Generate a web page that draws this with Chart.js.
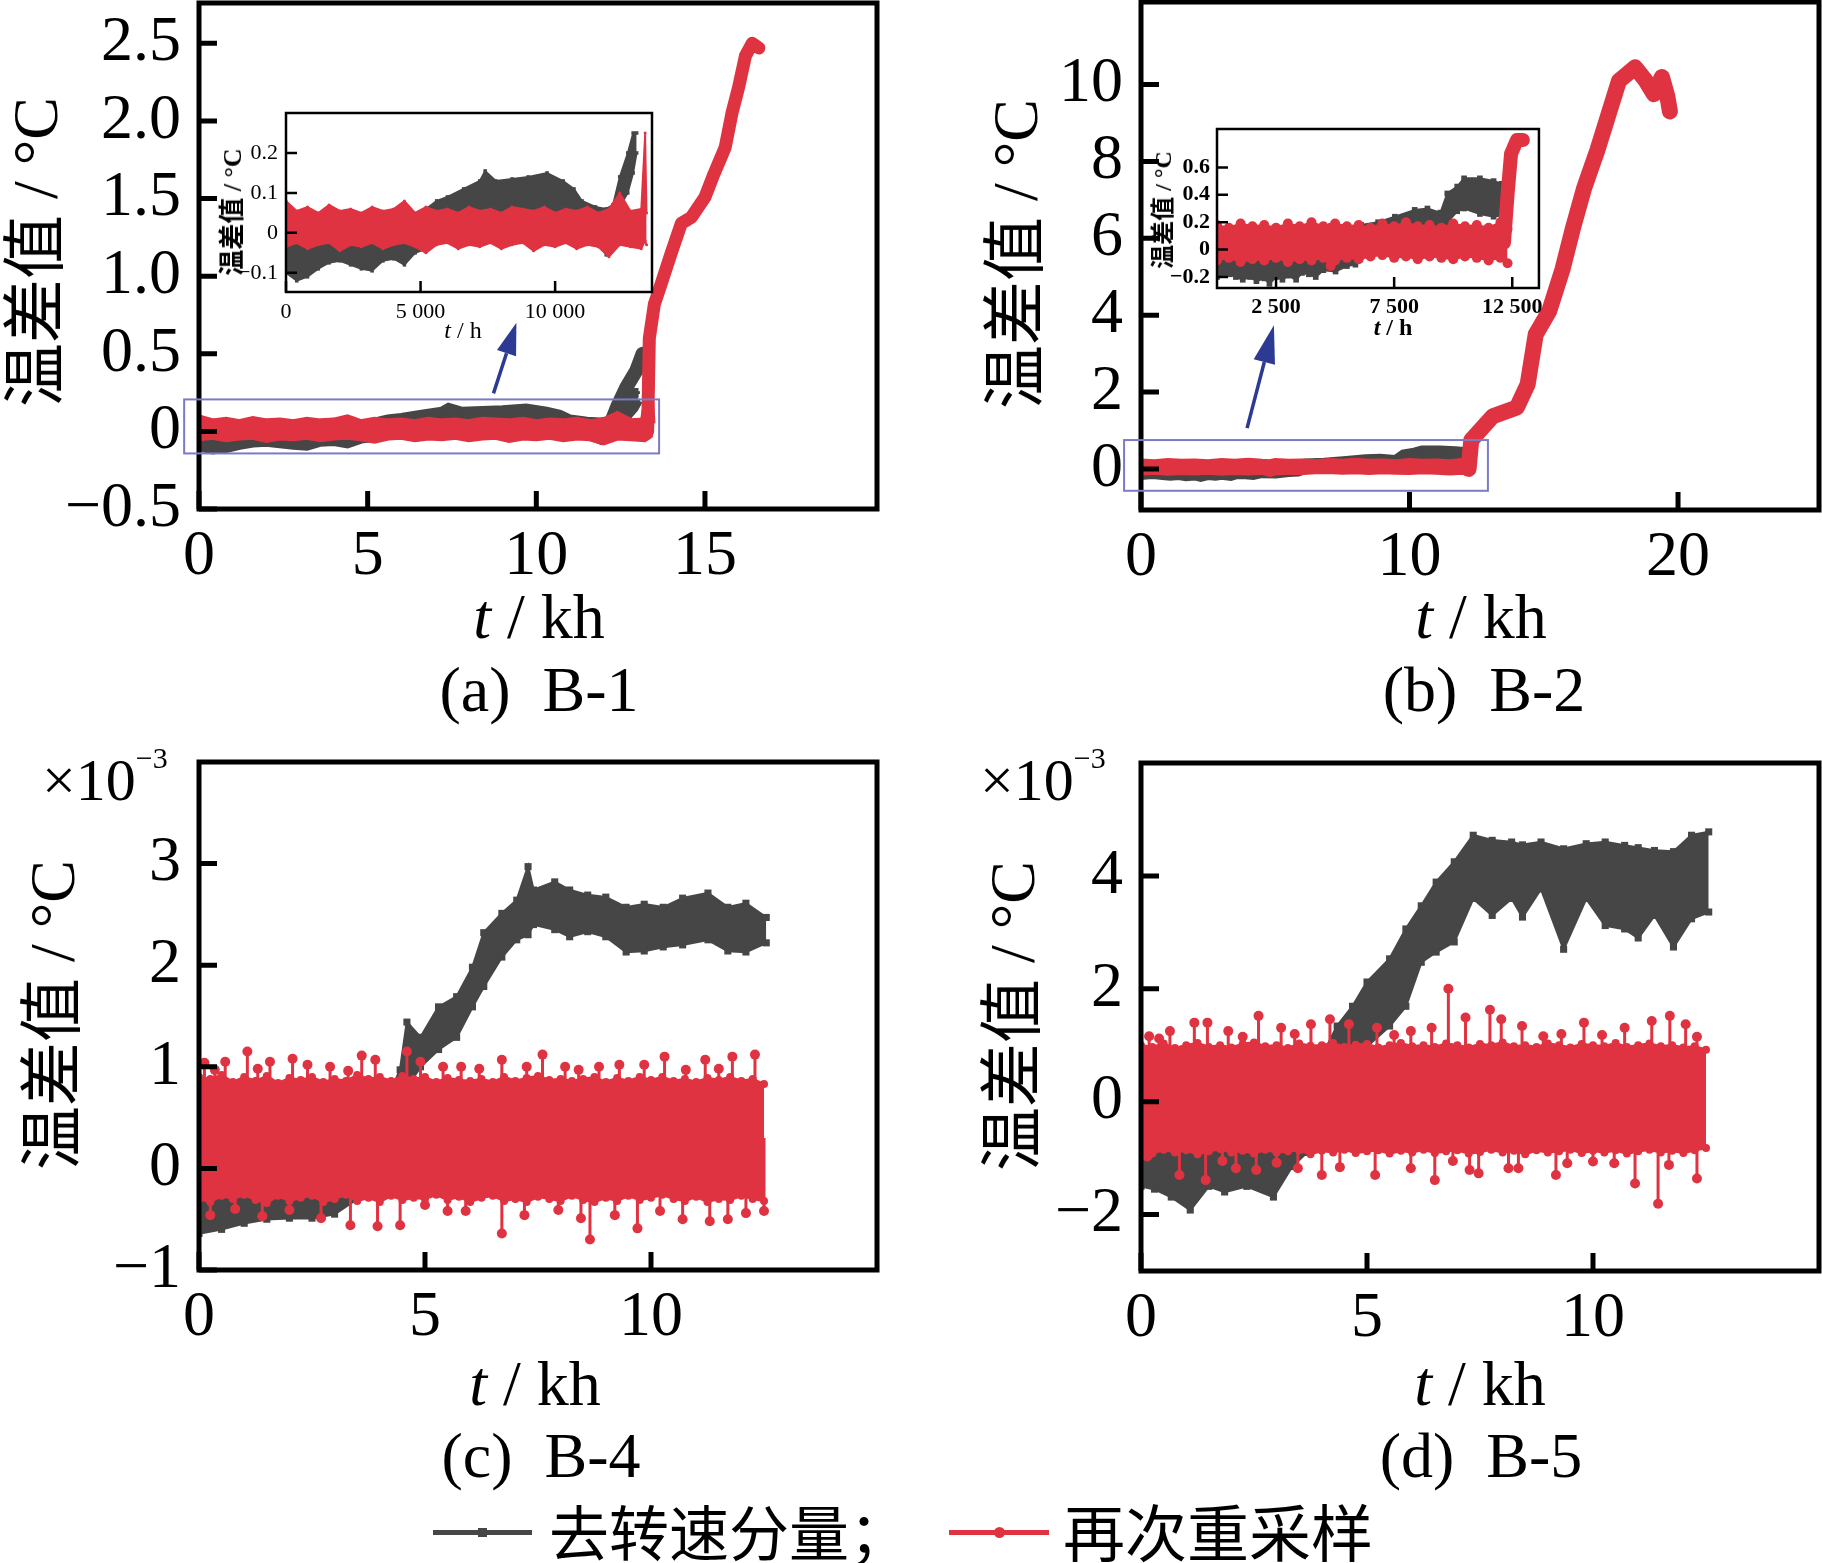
<!DOCTYPE html>
<html>
<head>
<meta charset="utf-8">
<script src="https://cdn.jsdelivr.net/npm/chart.js@4.4.1/dist/chart.umd.min.js"></script>
<style>
body { margin: 0; background: #fff; }
#page { position: relative; width: 1822px; height: 1563px; overflow: hidden; background: #fff; }
canvas { position: absolute; }
.t { position: absolute; white-space: nowrap; color: #000; line-height: 1;
     font-family: "Liberation Serif", "Noto Sans CJK SC", serif; transform: translate(-50%, -50%); }
.r { transform: translate(-50%, -50%) rotate(-90deg); }
.cn { font-family: "Noto Sans CJK SC", sans-serif; }
.m { position: absolute; white-space: nowrap; line-height: 1; font-family: "Liberation Serif", serif; font-size: 60px; }
.m span { font-size: 30px; position: relative; top: -32px; }
.seg { position: absolute; height: 5px; }
</style>
</head>
<body>
<div id="page">
  <canvas id="chA" width="887" height="679" style="left:0px;top:-60px"></canvas>
  <canvas id="chB" width="880" height="680" style="left:942px;top:-60px"></canvas>
  <canvas id="chC" width="887" height="680" style="left:0px;top:700px"></canvas>
  <canvas id="chD" width="880" height="681" style="left:942px;top:700px"></canvas>
  <canvas id="inA" width="432" height="245" style="left:226px;top:87px"></canvas>
  <canvas id="inB" width="392" height="225" style="left:1157px;top:103px"></canvas>

  <div class="t r" style="left:36px;top:252px;font-size:64px">温差值 / °C</div>
  <div class="t r" style="left:1016px;top:254px;font-size:64px">温差值 / °C</div>
  <div class="t r" style="left:53px;top:1015px;font-size:64px">温差值 / °C</div>
  <div class="t r" style="left:1013px;top:1016px;font-size:64px">温差值 / °C</div>

  <div class="t r" style="left:233px;top:212px;font-size:26px;font-weight:bold">温差值 / °C</div>
  <div class="t r" style="left:1163px;top:210px;font-size:24px;font-weight:bold">温差值 / °C</div>
  <div class="t" style="left:463px;top:330px;font-size:24px"><i>t</i> / h</div>
  <div class="t" style="left:1393px;top:327px;font-size:24px;font-weight:bold"><i>t</i> / h</div>

  <div class="t" style="left:539px;top:617px;font-size:64px"><i>t</i> / kh</div>
  <div class="t" style="left:1481px;top:617px;font-size:64px"><i>t</i> / kh</div>
  <div class="t" style="left:535px;top:1384px;font-size:64px"><i>t</i> / kh</div>
  <div class="t" style="left:1480px;top:1384px;font-size:64px"><i>t</i> / kh</div>

  <div class="t" style="left:539px;top:690px;font-size:64px">(a)&nbsp;&nbsp;B-1</div>
  <div class="t" style="left:1484px;top:690px;font-size:64px">(b)&nbsp;&nbsp;B-2</div>
  <div class="t" style="left:541px;top:1456px;font-size:64px">(c)&nbsp;&nbsp;B-4</div>
  <div class="t" style="left:1481px;top:1456px;font-size:64px">(d)&nbsp;&nbsp;B-5</div>

  <div class="m" style="left:42px;top:750px">×10<span>−3</span></div>
  <div class="m" style="left:980px;top:750px">×10<span>−3</span></div>

  <div class="seg" style="left:433px;top:1530px;width:99px;background:#464646"></div>
  <div style="position:absolute;left:478px;top:1528px;width:9px;height:9px;background:#464646"></div>
  <div class="t cn" style="left:549px;top:1530px;font-size:60px;transform:translate(0,-50%)">去转速分量；</div>
  <div class="seg" style="left:949px;top:1530px;width:100px;background:#e03341"></div>
  <div style="position:absolute;left:994px;top:1527px;width:11px;height:11px;border-radius:50%;background:#e03341"></div>
  <div class="t cn" style="left:1063px;top:1530px;font-size:62px;transform:translate(0,-50%)">再次重采样</div>
</div>

<script>
// ---- data ----
// (a) B-1, inset series, t in h
var aRedT = [0, 400, 800, 1200, 1600, 2000, 2400, 2800, 3200, 3600, 4000, 4400, 4800, 5200, 5600, 6000, 6400, 6800, 7200, 7600,
  8000, 8400, 8800, 9200, 9600, 10000, 10400, 10800, 11200, 11600, 12000, 12400, 12800, 13200, 13345, 13400];
var aRedHi = [0.08, 0.055, 0.065, 0.05, 0.07, 0.055, 0.06, 0.05, 0.065, 0.055, 0.06, 0.08, 0.05, 0.065, 0.055, 0.06, 0.05, 0.065, 0.055, 0.06,
  0.05, 0.065, 0.06, 0.055, 0.065, 0.05, 0.06, 0.055, 0.065, 0.05, 0.06, 0.1, 0.055, 0.06, 0.25, 0.05];
var aRedLo = [-0.035, -0.025, -0.04, -0.03, -0.025, -0.045, -0.03, -0.035, -0.025, -0.04, -0.03, -0.025, -0.035, -0.05, -0.03, -0.025, -0.04, -0.03, -0.035, -0.025,
  -0.04, -0.03, -0.025, -0.045, -0.03, -0.035, -0.025, -0.04, -0.03, -0.035, -0.06, -0.03, -0.035, -0.04, -0.02, -0.03];
var aGrayT = [0, 400, 800, 1200, 1600, 2000, 2400, 2800, 3200, 3600, 4000, 4400, 4800, 5200, 5600, 6000, 6600, 7200, 7400, 7800,
  8400, 9000, 9700, 10300, 10700, 11000, 11500, 11900, 12150, 12400, 12700, 12900, 13030];
var aGrayHi = [0.0, -0.01, 0.0, -0.01, 0.0, 0.01, 0.0, 0.01, 0.0, 0.01, 0.02, 0.03, 0.04, 0.06, 0.08, 0.09, 0.11, 0.13, 0.155, 0.13,
  0.135, 0.14, 0.15, 0.13, 0.11, 0.08, 0.065, 0.06, 0.07, 0.14, 0.2, 0.25, 0.25];
var aGrayLo = [-0.1, -0.12, -0.11, -0.09, -0.075, -0.07, -0.08, -0.09, -0.095, -0.07, -0.065, -0.08, -0.05, -0.04, -0.02, 0.0, 0.01, 0.02, 0.03, 0.02,
  0.03, 0.03, 0.02, 0.01, 0.0, -0.01, -0.02, -0.055, 0.0, 0.065, 0.1, 0.15, 0.2];
// (a) main-plot rise, t in kh
var aRedRiseT = [13.3, 13.35, 13.5, 13.7, 14.0, 14.3, 14.6, 15.0, 15.27, 15.6, 15.8, 16.0, 16.2, 16.4, 16.6];
var aRedRiseV = [0.0, 0.6, 0.82, 0.95, 1.15, 1.34, 1.38, 1.51, 1.66, 1.83, 2.05, 2.22, 2.42, 2.5, 2.47];
var aGrayRiseT = [12.2, 12.4, 12.66, 12.96, 13.15];
var aGrayRiseV = [0.05, 0.16, 0.28, 0.39, 0.5];

// (b) B-2, inset series, t in h
var bRedT = [0, 500, 1000, 1500, 2000, 2500, 3000, 3500, 4000, 4500, 4810, 5000, 5500, 6000, 6500, 7000, 7500, 8000, 8500, 9000,
  9500, 10000, 10500, 11000, 11500, 12000, 12300];
var bRedHi = [0.18, 0.16, 0.19, 0.17, 0.18, 0.16, 0.19, 0.17, 0.2, 0.17, 0.16, 0.19, 0.17, 0.18, 0.16, 0.19, 0.17, 0.2, 0.17, 0.18,
  0.16, 0.19, 0.17, 0.18, 0.16, 0.2, 0.15];
var bRedLo = [-0.08, -0.06, -0.09, -0.07, -0.08, -0.06, -0.09, -0.07, -0.08, -0.06, -0.12, -0.08, -0.06, -0.07, -0.05, -0.04, -0.06, -0.05, -0.07, -0.05,
  -0.06, -0.07, -0.05, -0.06, -0.08, -0.06, -0.1];
var bInRiseT = [12150, 12300, 12450, 12700, 12950];
var bInRiseV = [0.05, 0.4, 0.7, 0.8, 0.8];
var bGrayT = [0, 300, 540, 800, 1090, 1400, 1670, 2000, 2220, 2500, 2770, 3000, 3350, 3600, 3890, 4180, 4500, 5020, 5500, 5860,
  6100, 6820, 7530, 8370, 8910, 9460, 9750, 10170, 10460, 11130, 11710, 12050, 12150];
var bGrayHi = [-0.05, -0.06, -0.05, -0.07, -0.06, -0.05, -0.07, -0.06, -0.05, -0.06, -0.05, -0.06, -0.05, -0.04, -0.05, -0.03, 0.0, 0.05, 0.1, 0.14,
  0.18, 0.2, 0.24, 0.29, 0.3, 0.27, 0.41, 0.46, 0.52, 0.52, 0.5, 0.48, 0.05];
var bGrayLo = [-0.2, -0.18, -0.18, -0.2, -0.22, -0.2, -0.23, -0.21, -0.25, -0.2, -0.22, -0.19, -0.22, -0.17, -0.18, -0.2, -0.15, -0.16, -0.12, -0.11,
  -0.05, -0.02, 0.0, 0.05, 0.08, 0.1, 0.2, 0.28, 0.3, 0.26, 0.24, 0.25, -0.02];
// (b) main-plot rise, t in kh
var bRedRiseT = [12.2, 12.3, 13.1, 14.0, 14.4, 14.7, 15.2, 15.7, 16.1, 16.5, 17.0, 17.4, 17.8, 18.4, 18.8, 19.1, 19.4, 19.6, 19.7];
var bRedRiseV = [0.0, 0.75, 1.37, 1.6, 2.2, 3.5, 4.1, 5.2, 6.3, 7.3, 8.3, 9.2, 10.1, 10.45, 10.1, 9.75, 10.2, 9.7, 9.3];

// (c) B-4 and (d) B-5, t in kh, values in 1e-3 degC
// red: solid core edges on a common t grid, plus single spikes beyond the core
var cdRedT = [0, 0.25, 0.5, 0.75, 1, 1.25, 1.5, 1.75, 2, 2.25, 2.5, 2.75, 3, 3.25, 3.5, 3.75, 4, 4.25, 4.5, 4.75,
  5, 5.25, 5.5, 5.75, 6, 6.25, 6.5, 6.75, 7, 7.25, 7.5, 7.75, 8, 8.25, 8.5, 8.75, 9, 9.25, 9.5, 9.75,
  10, 10.25, 10.5, 10.75, 11, 11.25, 11.5, 11.75, 12, 12.25, 12.5];
var cRedHi = [0.9, 0.88, 0.92, 0.85, 0.9, 0.86, 0.91, 0.84, 0.89, 0.87, 0.9, 0.85, 0.88, 0.86, 0.92, 0.88, 0.9, 0.86, 0.91, 0.88,
  0.9, 0.85, 0.89, 0.87, 0.86, 0.88, 0.85, 0.9, 0.86, 0.89, 0.91, 0.87, 0.88, 0.86, 0.88, 0.9, 0.85, 0.89, 0.86, 0.9,
  0.87, 0.9, 0.86, 0.88, 0.85, 0.89, 0.87, 0.9, 0.86, 0.88, 0.83];
var cRedLo = [-0.3, -0.33, -0.27, -0.3, -0.26, -0.31, -0.34, -0.27, -0.32, -0.29, -0.27, -0.33, -0.3, -0.26, -0.32, -0.29, -0.33, -0.27, -0.31, -0.29,
  -0.3, -0.26, -0.31, -0.28, -0.33, -0.29, -0.27, -0.32, -0.3, -0.33, -0.28, -0.3, -0.32, -0.27, -0.31, -0.33, -0.29, -0.32, -0.27, -0.31,
  -0.29, -0.26, -0.3, -0.32, -0.28, -0.33, -0.3, -0.31, -0.27, -0.3, -0.32];
var cUpT = [0.12, 0.35, 0.58, 1.07, 1.3, 1.57, 2.07, 2.4, 2.9, 3.3, 3.6, 3.9, 4.6, 4.9, 5.4, 5.8, 6.2, 6.7, 7.25, 7.6,
  8.1, 8.4, 8.85, 9.3, 9.85, 10.3, 10.77, 11.2, 11.5, 11.8, 12.3];
var cUpV = [1.04, 0.97, 1.05, 1.15, 0.98, 1.05, 1.08, 1.02, 1.0, 0.96, 1.11, 1.07, 1.15, 1.05, 1.0, 1.0, 0.98, 1.07, 1.0, 1.12,
  1.0, 0.97, 1.0, 1.02, 1.02, 1.1, 0.97, 1.07, 0.98, 1.1, 1.12];
var cDnT = [0.25, 0.8, 1.4, 2.0, 2.7, 3.35, 3.95, 4.45, 5.0, 5.5, 5.9, 6.7, 7.2, 7.95, 8.45, 8.65, 9.2, 9.7, 10.2, 10.7,
  11.3, 11.7, 12.1, 12.5];
var cDnV = [-0.46, -0.4, -0.47, -0.41, -0.49, -0.56, -0.57, -0.56, -0.36, -0.42, -0.42, -0.64, -0.46, -0.41, -0.49, -0.7, -0.46, -0.59, -0.42, -0.5,
  -0.52, -0.5, -0.44, -0.42];
var cGrayT = [0, 0.5, 1.0, 1.5, 2.0, 2.5, 3.0, 3.5, 4.0, 4.45, 4.6, 4.9, 5.3, 5.7, 6.05, 6.3, 6.7, 7.03, 7.28, 7.4,
  7.87, 8.2, 8.6, 9.0, 9.45, 9.85, 10.27, 10.7, 11.26, 11.7, 12.1, 12.55];
var cGrayHi = [-0.25, -0.2, -0.15, -0.1, -0.08, -0.05, -0.02, 0.2, 0.5, 0.97, 1.44, 1.29, 1.59, 1.69, 1.98, 2.32, 2.51, 2.64, 2.97, 2.74,
  2.82, 2.74, 2.69, 2.67, 2.57, 2.6, 2.57, 2.66, 2.71, 2.57, 2.61, 2.47];
var cGrayLo = [-0.64, -0.6, -0.54, -0.5, -0.49, -0.49, -0.45, -0.3, 0.1, 0.6, 0.8, 1.0, 1.17, 1.29, 1.59, 1.79, 2.08, 2.25, 2.3, 2.4,
  2.35, 2.28, 2.33, 2.28, 2.13, 2.14, 2.18, 2.2, 2.25, 2.14, 2.13, 2.22];

var dRedHi = [1.0, 0.97, 1.03, 0.95, 1.0, 1.04, 0.97, 1.0, 0.96, 1.02, 1.05, 0.98, 1.0, 0.95, 1.03, 0.99, 1.0, 1.04, 0.97, 1.01,
  1.02, 0.96, 1.0, 1.04, 0.98, 1.0, 0.97, 1.03, 1.0, 0.96, 1.02, 1.0, 1.05, 0.98, 1.0, 0.97, 1.03, 1.0, 0.96, 1.02,
  1.0, 0.98, 1.04, 0.97, 1.0, 1.03, 0.98, 1.0, 0.96, 0.98, 0.92];
var dRedLo = [-0.88, -0.92, -0.85, -0.9, -0.86, -0.93, -0.88, -0.84, -0.9, -0.87, -0.92, -0.85, -0.9, -0.88, -0.86, -0.93, -0.87, -0.9, -0.85, -0.91,
  -0.88, -0.86, -0.92, -0.87, -0.9, -0.85, -0.91, -0.88, -0.86, -0.92, -0.89, -0.85, -0.9, -0.87, -0.93, -0.86, -0.9, -0.88, -0.85, -0.91,
  -0.87, -0.9, -0.86, -0.92, -0.88, -0.85, -0.9, -0.87, -0.91, -0.86, -0.82];
var dUpT = [0.18, 0.4, 0.64, 1.18, 1.47, 1.93, 2.25, 2.6, 3.1, 3.4, 3.76, 4.18, 4.6, 5.22, 5.6, 5.97, 6.43, 6.8, 7.18, 7.72,
  7.97, 8.43, 8.9, 9.3, 9.8, 10.2, 10.7, 11.3, 11.7, 12.05, 12.3];
var dUpV = [1.16, 1.12, 1.25, 1.4, 1.4, 1.25, 1.15, 1.52, 1.31, 1.2, 1.37, 1.46, 1.37, 1.31, 1.18, 1.25, 1.31, 2.0, 1.49, 1.63,
  1.46, 1.34, 1.16, 1.2, 1.4, 1.18, 1.31, 1.43, 1.52, 1.37, 1.15];
var dDnT = [0.14, 0.85, 1.43, 1.8, 2.1, 2.55, 3.0, 3.47, 4.0, 4.4, 5.18, 5.97, 6.5, 6.9, 7.27, 7.47, 8.13, 8.35, 9.18, 9.43,
  10.0, 10.47, 10.93, 11.44, 11.68, 12.3];
var dDnV = [-0.97, -1.3, -1.39, -1.05, -1.18, -1.21, -1.08, -1.18, -1.3, -1.16, -1.3, -1.18, -1.39, -1.05, -1.21, -1.27, -1.18, -1.18, -1.3, -1.09,
  -1.06, -1.09, -1.45, -1.81, -1.12, -1.36];
var dGrayT = [0, 0.3, 0.67, 1.09, 1.5, 1.85, 2.34, 2.93, 3.34, 3.67, 4.0, 4.34, 4.68, 5.0, 5.5, 5.86, 6.2, 6.53, 6.93, 7.35,
  7.77, 8.2, 8.44, 8.85, 9.35, 9.85, 10.27, 10.7, 11.0, 11.36, 11.78, 12.18, 12.56];
var dGrayHi = [-0.6, -0.7, -0.75, -0.9, -0.6, -0.7, -0.6, -0.6, -0.2, 0.3, 0.8, 1.34, 1.69, 2.12, 2.53, 3.06, 3.47, 3.89, 4.25, 4.72,
  4.63, 4.6, 4.55, 4.6, 4.48, 4.57, 4.6, 4.54, 4.5, 4.45, 4.43, 4.72, 4.78];
var dGrayLo = [-1.5, -1.55, -1.69, -1.92, -1.5, -1.6, -1.5, -1.69, -1.15, -0.9, -0.5, 0.2, 0.7, 0.98, 1.34, 1.69, 2.47, 2.65, 2.83, 3.6,
  3.3, 3.6, 3.27, 3.77, 2.7, 3.6, 3.12, 3.06, 2.9, 3.3, 2.74, 3.24, 3.36];

// ticks
var aXTicks = [0, 5, 10, 15], aXLabels = ['0', '5', '10', '15'];
var aYTicks = [-0.5, 0, 0.5, 1, 1.5, 2, 2.5], aYLabels = ['−0.5', '0', '0.5', '1.0', '1.5', '2.0', '2.5'];
var bXTicks = [0, 10, 20], bXLabels = ['0', '10', '20'];
var bYTicks = [0, 2, 4, 6, 8, 10], bYLabels = ['0', '2', '4', '6', '8', '10'];
var cdXTicks = [0, 5, 10], cdXLabels = ['0', '5', '10'];
var cYTicks = [-1, 0, 1, 2, 3], cYLabels = ['−1', '0', '1', '2', '3'];
var dYTicks = [-2, 0, 2, 4], dYLabels = ['−2', '0', '2', '4'];
var inAXTicks = [0, 5000, 10000], inAXLabels = ['0', '5 000', '10 000'];
var inAYTicks = [-0.1, 0, 0.1, 0.2], inAYLabels = ['−0.1', '0', '0.1', '0.2'];
var inBXTicks = [2500, 7500, 12500], inBXLabels = ['2 500', '7 500', '12 500'];
var inBYTicks = [-0.2, 0, 0.2, 0.4, 0.6], inBYLabels = ['−0.2', '0', '0.2', '0.4', '0.6'];

var RED = '#e03341', GRAY = '#464646', BOXC = '#7a7ac6', ARROWC = '#2c3a94';

// upper and lower edge of a noisy trace, filled in between
function band(t, hi, lo, k, color, style, r, w, order) {
  function pts(v) { return t.map(function (x, i) { return {x: x * k, y: v[i]}; }); }
  function ds(v, fill) {
    return {data: pts(v), fill: fill, borderColor: color, backgroundColor: color, borderWidth: w,
      pointStyle: style, pointRadius: r, pointBorderWidth: 0, pointBackgroundColor: color, order: order};
  }
  return [ds(hi, false), ds(lo, '-1')];
}

function line(t, v, color, w, order) {
  return {data: t.map(function (x, i) { return {x: x, y: v[i]}; }), fill: false, borderColor: color,
    borderWidth: w, pointRadius: 0, borderJoinStyle: 'round', borderCapStyle: 'round', order: order};
}

// thin stems from inside the core out to each spike value, dot on the tip
function spikes(t, v, mid, color, r, w, order) {
  var d = [];
  t.forEach(function (x, i) { d.push({x: x, y: mid}, {x: x, y: v[i]}, {x: x, y: null}); });
  return {data: d, fill: false, spanGaps: false, borderColor: color, backgroundColor: color, borderWidth: w,
    pointBorderWidth: 0, pointBackgroundColor: color, order: order,
    pointRadius: function (c) { return c.dataIndex % 3 === 1 ? r : 0; }};
}

// box, inward ticks, white inset background, zoom rectangle + arrow
function frame(o) {
  return {
    id: 'frame',
    beforeDatasetsDraw: function (chart) {
      if (!o.white) return;
      var a = chart.chartArea, ctx = chart.ctx;
      ctx.save();
      ctx.fillStyle = '#fff';
      ctx.fillRect(a.left, a.top, a.right - a.left, a.bottom - a.top);
      ctx.restore();
    },
    afterDatasetsDraw: function (chart) {
      var a = chart.chartArea, ctx = chart.ctx, sx = chart.scales.x, sy = chart.scales.y;
      ctx.save();
      ctx.strokeStyle = '#000';
      ctx.lineWidth = o.tw;
      ctx.beginPath();
      sx.ticks.forEach(function (t) {
        var p = sx.getPixelForValue(t.value);
        ctx.moveTo(p, a.bottom); ctx.lineTo(p, a.bottom - o.tl);
      });
      sy.ticks.forEach(function (t) {
        var p = sy.getPixelForValue(t.value);
        ctx.moveTo(a.left, p); ctx.lineTo(a.left + o.tl, p);
      });
      ctx.stroke();
      ctx.lineWidth = o.bw;
      ctx.strokeRect(a.left, a.top, a.right - a.left, a.bottom - a.top);

      if (o.zoomBox) {
        var z = o.zoomBox;
        var x0 = sx.getPixelForValue(z[0]), x1 = sx.getPixelForValue(z[1]);
        var y0 = sy.getPixelForValue(z[3]), y1 = sy.getPixelForValue(z[2]);
        ctx.strokeStyle = BOXC;
        ctx.lineWidth = 2;
        ctx.strokeRect(x0, y0, x1 - x0, y1 - y0);

        var ar = o.arrow;
        var ax = sx.getPixelForValue(ar[0]), ay = sy.getPixelForValue(ar[1]);
        var hx = sx.getPixelForValue(ar[2]), hy = sy.getPixelForValue(ar[3]);
        var ang = Math.atan2(hy - ay, hx - ax);
        var bx = hx - o.hl * Math.cos(ang), by = hy - o.hl * Math.sin(ang);
        ctx.strokeStyle = ARROWC;
        ctx.fillStyle = ARROWC;
        ctx.lineWidth = 3.5;
        ctx.beginPath(); ctx.moveTo(ax, ay); ctx.lineTo(bx, by); ctx.stroke();
        ctx.beginPath();
        ctx.moveTo(hx, hy);
        ctx.lineTo(bx + o.hw / 2 * Math.sin(ang), by - o.hw / 2 * Math.cos(ang));
        ctx.lineTo(bx - o.hw / 2 * Math.sin(ang), by + o.hw / 2 * Math.cos(ang));
        ctx.closePath();
        ctx.fill();
      }
      ctx.restore();
    }
  };
}

function makeChart(id, sets, o) {
  var font = {family: '"Liberation Serif", serif', size: o.fs, weight: o.fw || 'normal'};
  return new Chart(document.getElementById(id), {
    type: 'line',
    data: {datasets: sets},
    options: {
      responsive: false,
      animation: false,
      events: [],
      elements: {line: {tension: 0}},
      layout: {padding: {top: o.pt, right: o.pr, left: 0, bottom: 0}, autoPadding: false},
      plugins: {legend: {display: false}, tooltip: {enabled: false}},
      scales: {
        x: {
          type: 'linear', min: o.x[0], max: o.x[1],
          afterFit: function (s) { s.height = o.xh; },
          afterBuildTicks: function (s) { s.ticks = o.xt.map(function (v) { return {value: v}; }); },
          grid: {display: false, drawTicks: false}, border: {display: false},
          ticks: {autoSkip: false, maxRotation: 0, minRotation: 0, padding: o.xp, color: '#000', font: font,
            callback: function (v, i) { return o.xl[i]; }}
        },
        y: {
          type: 'linear', min: o.y[0], max: o.y[1],
          afterFit: function (s) { s.width = o.yw; },
          afterBuildTicks: function (s) { s.ticks = o.yt.map(function (v) { return {value: v}; }); },
          grid: {display: false, drawTicks: false}, border: {display: false},
          ticks: {autoSkip: false, padding: o.yp, color: '#000', font: font,
            callback: function (v, i) { return o.yl[i]; }}
        }
      }
    },
    plugins: [frame(o)]
  });
}

var mainOpt = {fs: 64, yw: 199, xh: 110, xp: 10, yp: 18, bw: 5, tl: 18, tw: 5};
var insetOpt = {fs: 22, yw: 60, xh: 40, pt: 26, pr: 6, yp: 8, bw: 2.5, tl: 11, tw: 2.5, white: true};

// (a)
makeChart('chA',
  band(aRedT, aRedHi, aRedLo, 0.001, RED, 'circle', 2, 9, 0)
    .concat([line(aRedRiseT, aRedRiseV, RED, 13, 0)])
    .concat(band(aGrayT, aGrayHi, aGrayLo, 0.001, GRAY, 'rect', 2, 9, 1))
    .concat([line(aGrayRiseT, aGrayRiseV, GRAY, 14, 1)]),
  Object.assign({}, mainOpt, {pt: 63, pr: 10, x: [0, 20.1], y: [-0.5, 2.76],
    xt: aXTicks, xl: aXLabels, yt: aYTicks, yl: aYLabels,
    zoomBox: [-0.44, 13.64, -0.142, 0.206], arrow: [8.73, 0.245, 9.41, 0.70], hl: 32, hw: 20}));

// (b)
makeChart('chB',
  band(bRedT, bRedHi, bRedLo, 0.001, RED, 'circle', 2, 7, 0)
    .concat([line(bRedRiseT, bRedRiseV, RED, 16, 0)])
    .concat(band(bGrayT, bGrayHi, bGrayLo, 0.001, GRAY, 'rect', 2, 7, 1)),
  Object.assign({}, mainOpt, {pt: 62, pr: 3, x: [0, 25.25], y: [-1.07, 12.15],
    xt: bXTicks, xl: bXLabels, yt: bYTicks, yl: bYLabels,
    zoomBox: [-0.63, 12.92, -0.57, 0.75], arrow: [3.95, 1.06, 4.95, 3.74], hl: 38, hw: 22}));

// (c)
makeChart('chC',
  band(cdRedT, cRedHi, cRedLo, 1, RED, 'circle', 4, 2.5, 0)
    .concat([spikes(cUpT, cUpV, 0.3, RED, 5, 3, 0), spikes(cDnT, cDnV, 0.3, RED, 5, 3, 0)])
    .concat(band(cGrayT, cGrayHi, cGrayLo, 1, GRAY, 'rect', 5, 2.5, 1)),
  Object.assign({}, mainOpt, {pt: 62, pr: 10, x: [0, 15], y: [-1, 4],
    xt: cdXTicks, xl: cdXLabels, yt: cYTicks, yl: cYLabels}));

// (d)
makeChart('chD',
  band(cdRedT, dRedHi, dRedLo, 1, RED, 'circle', 4, 2.5, 0)
    .concat([spikes(dUpT, dUpV, 0.05, RED, 5, 3, 0), spikes(dDnT, dDnV, 0.05, RED, 5, 3, 0)])
    .concat(band(dGrayT, dGrayHi, dGrayLo, 1, GRAY, 'rect', 5, 2.5, 1)),
  Object.assign({}, mainOpt, {pt: 63, pr: 3, x: [0, 15], y: [-3, 6],
    xt: cdXTicks, xl: cdXLabels, yt: dYTicks, yl: dYLabels}));

// inset of (a)
makeChart('inA',
  band(aRedT, aRedHi, aRedLo, 1, RED, 'circle', 1.5, 1.8, 0)
    .concat(band(aGrayT, aGrayHi, aGrayLo, 1, GRAY, 'rect', 2.5, 1.8, 1)),
  Object.assign({}, insetOpt, {xp: 7, x: [0, 13600], y: [-0.148, 0.3],
    xt: inAXTicks, xl: inAXLabels, yt: inAYTicks, yl: inAYLabels}));

// inset of (b)
makeChart('inB',
  band(bRedT, bRedHi, bRedLo, 1, RED, 'circle', 5, 2, 0)
    .concat([line(bInRiseT, bInRiseV, RED, 14, 0)])
    .concat(band(bGrayT, bGrayHi, bGrayLo, 1, GRAY, 'rect', 4, 2, 1)),
  Object.assign({}, insetOpt, {xp: 6, yp: 7, fw: 'bold', x: [0, 13630], y: [-0.28, 0.88],
    xt: inBXTicks, xl: inBXLabels, yt: inBYTicks, yl: inBYLabels}));
</script>
</body>
</html>
